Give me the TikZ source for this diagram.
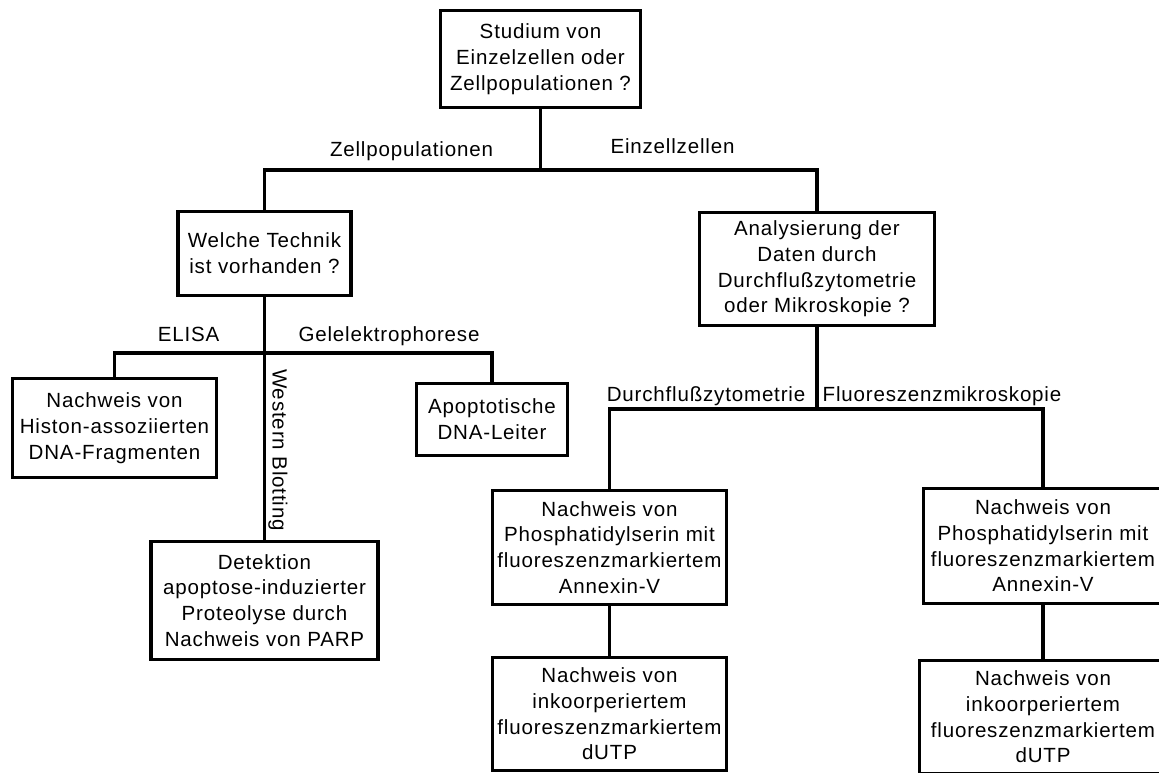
\documentclass[tikz,border=0pt]{standalone}
\usepackage{fontspec}
\setmainfont{Liberation Sans}[LetterSpace=4]
\usepackage{tikz}

\tikzset{
  box/.style={draw=black, line width=2.2pt, align=center, inner sep=0pt},
  sz/.style 2 args={minimum width=#1*0.025cm, minimum height=#2*0.025cm},
  lbl/.style={anchor=base, inner sep=0pt},
  conn/.style={black, line width=2.2pt},
}

\begin{document}
\begin{tikzpicture}[x=0.025cm, y=-0.025cm, font=\fontsize{14.6pt}{18.3pt}\selectfont]
            \clip (0,0) rectangle (1159,773);

            %% top question
            \node[box, sz={200}{97}] (studium) at (540.5,59) {Studium von\\Einzelzellen oder\\Zellpopulationen ?};

            %% second level
            \node[box, sz={173}{84}] (technik) at (264.5,253.5) {Welche Technik\\ist vorhanden ?};
            \node[box, sz={235}{113}] (analyse) at (817,269) {Analysierung der\\Daten durch\\Durchflußzytometrie\\oder Mikroskopie ?};

            %% techniques
            \node[box, sz={204}{99}] (histon) at (114.5,428) {Nachweis von\\Histon-assoziierten\\DNA-Fragmenten};
            \node[box, sz={151}{72}] (leiter) at (492,419.5) {Apoptotische\\DNA-Leiter};
            \node[box, sz={227}{118}] (parp) at (264.5,600.5) {Detektion\\apoptose-induzierter\\Proteolyse durch\\Nachweis von PARP};

            %% durchfluss
            \node[box, sz={234}{114}] (fphos) at (609.5,547.5) {Nachweis von\\Phosphatidylserin mit\\fluoreszenzmarkiertem\\Annexin-V};
            \node[box, sz={234}{113}] (fdutp) at (609.5,714) {Nachweis von\\inkoorperiertem\\fluoreszenzmarkiertem\\dUTP};

            %% mikroskopie
            \node[box, sz={239}{115}] (mphos) at (1043,546) {Nachweis von\\Phosphatidylserin mit\\fluoreszenzmarkiertem\\Annexin-V};
            \node[box, sz={247}{113}] (mdutp) at (1043,717) {Nachweis von\\inkoorperiertem\\fluoreszenzmarkiertem\\dUTP};

            %% junctions
            \coordinate (j1) at (540.5,170);
            \coordinate (j2) at (264.5,353);
            \coordinate (j3) at (817,409);

            %% connectors
            \draw[conn] (studium.south) -- (j1);
            \draw[conn] (technik.north) |- (j1) -| (analyse.north);
            \draw[conn] (technik.south) -- (parp.north);
            \draw[conn] (histon.north) |- (j2) -| (leiter.north);
            \draw[conn] (analyse.south) -- (j3);
            \draw[conn] (fphos.north) |- (j3) -| (mphos.north);
            \draw[conn] (fphos) -- (fdutp);
            \draw[conn] (mphos) -- (mdutp);

            %% branch labels
            \node[lbl] (zellpop) at (411.5,157) {Zellpopulationen};
            \node[lbl] (einzel) at (672.5,154) {Einzellzellen};
            \node[lbl] (elisa) at (188.5,342) {ELISA};
            \node[lbl] (gel) at (389,342) {Gelelektrophorese};
            \node[rotate=-90, inner sep=0pt] (western) at (278,450) {Western Blotting};
            \node[lbl] (durch) at (706,402) {Durchflußzytometrie};
            \node[lbl] (fluor) at (942,402) {Fluoreszenzmikroskopie};

        \end{tikzpicture}
\end{document}
